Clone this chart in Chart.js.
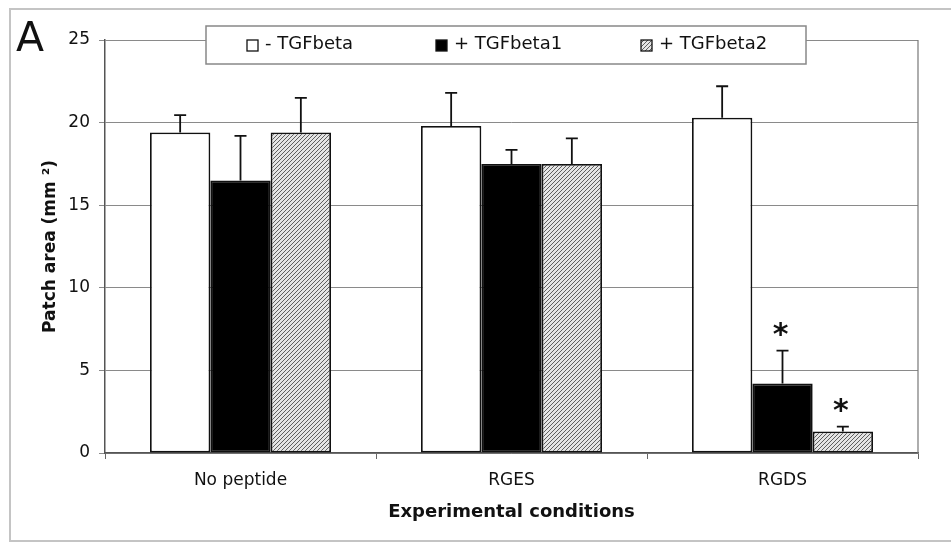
<!DOCTYPE html>
<html>
<head>
<meta charset="utf-8">
<script src="https://cdn.jsdelivr.net/npm/chart.js@4/dist/chart.umd.min.js"></script>
<style>
  html, body { margin: 0; padding: 0; background: #fff; }
  #wrap { position: relative; width: 951px; height: 542px; overflow: hidden; }
  #frame { position: absolute; left: 9px; top: 8px; width: 980px; height: 530px; border: 2px solid #c4c4c4; border-right: none; }
  #panel { position: absolute; left: 16px; top: 13px; font: 41px "DejaVu Sans", sans-serif; color: #111; }
  canvas { position: absolute; left: 0; top: 0; }
</style>
</head>
<body>
<div id="wrap">
  <div id="frame"></div>
  <canvas id="chart" width="951" height="542"></canvas>
  <div id="panel">A</div>
</div>
<script>
const categories = ["No peptide", "RGES", "RGDS"];
const seriesLabels = ["- TGFbeta", "+ TGFbeta1", "+ TGFbeta2"];

const noTgf = [19.4, 19.8, 20.3];
const tgf1 = [16.5, 17.5, 4.2];
const tgf2 = [19.4, 17.5, 1.3];

const noTgfErr = [1.05, 2.0, 1.9];
const tgf1Err = [2.7, 0.85, 2.0];
const tgf2Err = [2.1, 1.55, 0.3];

const tgf1Star = [false, false, true];
const tgf2Star = [false, false, true];

const yTicks = [0, 5, 10, 15, 20, 25];

function hatch() {
    const c = document.createElement("canvas");
    c.width = 4;
    c.height = 4;
    const g = c.getContext("2d");
    g.fillStyle = "#e4e4e4";
    g.fillRect(0, 0, 4, 4);
    g.strokeStyle = "#5e5e5e";
    g.lineWidth = 1;
    g.beginPath();
    g.moveTo(0, 4); g.lineTo(4, 0);
    g.moveTo(-1, 1); g.lineTo(1, -1);
    g.moveTo(3, 5); g.lineTo(5, 3);
    g.stroke();
    return g.createPattern(c, "repeat");
}

const ctx = document.getElementById("chart").getContext("2d");
const hatchFill = hatch();
const fills = ["#ffffff", "#000000", hatchFill];
const errors = [noTgfErr, tgf1Err, tgf2Err];
const stars = [[false, false, false], tgf1Star, tgf2Star];

const errorBars = {
    id: "errorBars",
    afterDatasetsDraw(chart) {
        const c = chart.ctx;
        const y = chart.scales.y;
        c.save();
        c.strokeStyle = "#111";
        c.lineWidth = 1.8;
        chart.data.datasets.forEach((ds, i) => {
            chart.getDatasetMeta(i).data.forEach((bar, j) => {
                const top = y.getPixelForValue(ds.data[j] + errors[i][j]);
                c.beginPath();
                c.moveTo(bar.x, bar.y);
                c.lineTo(bar.x, top);
                c.moveTo(bar.x - 6, top);
                c.lineTo(bar.x + 6, top);
                c.stroke();
                if (stars[i][j]) {
                    c.fillStyle = "#111";
                    c.font = "bold 30px 'DejaVu Sans'";
                    c.textAlign = "center";
                    const m = c.measureText("*");
                    const mid = top - 21;
                    c.textBaseline = "alphabetic";
                    c.fillText("*", bar.x - 2, mid + (m.actualBoundingBoxAscent - m.actualBoundingBoxDescent) / 2);
                }
            });
        });
        c.restore();
    }
};

const frameAndLegend = {
    id: "frameAndLegend",
    afterDraw(chart) {
        const c = chart.ctx;
        const a = chart.chartArea;
        c.save();
        // right edge of the plot area
        c.strokeStyle = "#777";
        c.lineWidth = 1.2;
        c.beginPath();
        c.moveTo(a.right, a.top);
        c.lineTo(a.right, a.bottom);
        c.stroke();

        // legend box
        const bx = a.left + 101, by = a.top - 14, bw = 600, bh = 38;
        c.fillStyle = "#fff";
        c.fillRect(bx, by, bw, bh);
        c.strokeStyle = "#888";
        c.lineWidth = 1.5;
        c.strokeRect(bx, by, bw, bh);

        const markX = [bx + 41, bx + 230, bx + 435];
        c.font = "18px 'DejaVu Sans'";
        c.textBaseline = "middle";
        c.textAlign = "left";
        chart.data.datasets.forEach((ds, i) => {
            c.fillStyle = fills[i];
            c.fillRect(markX[i], by + 14, 11, 11);
            c.strokeStyle = "#111";
            c.lineWidth = 1.3;
            c.strokeRect(markX[i], by + 14, 11, 11);
            c.fillStyle = "#111";
            c.fillText(ds.label, markX[i] + 18, by + 18);
        });
        c.restore();
    }
};

new Chart(ctx, {
    type: "bar",
    data: {
        labels: categories,
        datasets: [noTgf, tgf1, tgf2].map((d, i) => ({
            label: seriesLabels[i],
            data: d,
            backgroundColor: fills[i],
            borderColor: "#111",
            borderWidth: 1.8,
            borderSkipped: false,
            categoryPercentage: 0.668,
            barPercentage: 1.0,
        })),
    },
    options: {
        responsive: false,
        animation: false,
        devicePixelRatio: 1,
        layout: { padding: { left: 38, right: 33, top: 40, bottom: 0 } },
        plugins: {
            legend: { display: false },
            tooltip: { enabled: false },
        },
        scales: {
            x: {
                grid: { drawOnChartArea: false, drawTicks: true, tickLength: 6, color: "#666", offset: true },
                border: { color: "#555", width: 1.5 },
                ticks: { color: "#111", font: { family: "DejaVu Sans", size: 17 }, padding: 11 },
                title: {
                    display: true,
                    text: "Experimental conditions",
                    color: "#111",
                    font: { family: "DejaVu Sans", size: 18, weight: "bold" },
                    padding: { top: 0, bottom: 19 },
                },
                afterFit(s) { s.height = 89; },
            },
            y: {
                min: 0,
                max: 25,
                afterBuildTicks(s) { s.ticks = yTicks.map(v => ({ value: v })); },
                grid: { color: "#8a8a8a", lineWidth: 1, tickLength: 6 },
                border: { color: "#555", width: 1.5 },
                ticks: { color: "#111", font: { family: "DejaVu Sans", size: 17 }, padding: 9 },
                title: {
                    display: true,
                    text: "Patch area (mm \u00b2)",
                    color: "#111",
                    font: { family: "DejaVu Sans", size: 17, weight: "bold" },
                    padding: { top: 2, bottom: 0 },
                },
                afterFit(s) { s.width = 67; },
            },
        },
    },
    plugins: [errorBars, frameAndLegend],
});
</script>
</body>
</html>
